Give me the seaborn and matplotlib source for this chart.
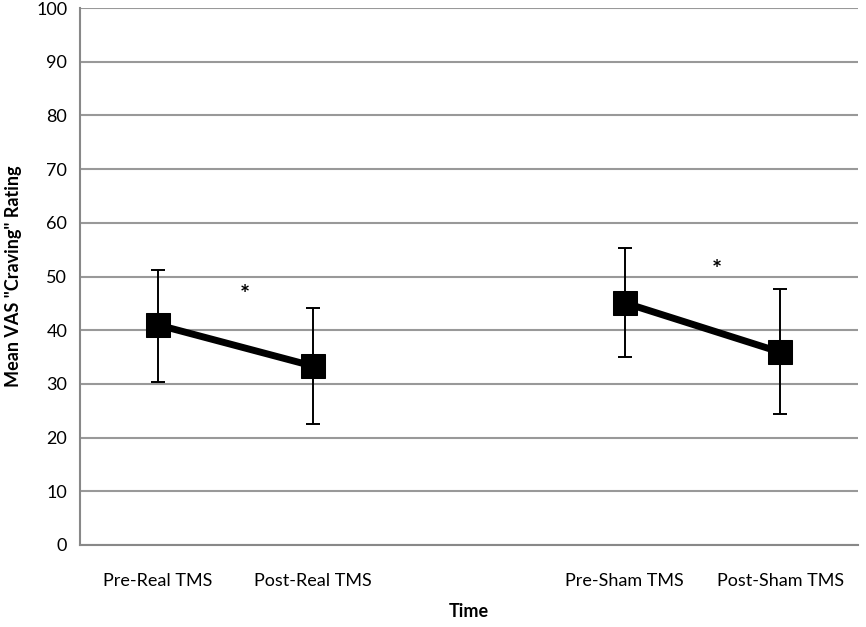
import pandas as pd
import numpy as np
import matplotlib.pyplot as plt
import seaborn as sns
from matplotlib.ticker import FixedLocator

categories = ["Pre-Real TMS", "Post-Real TMS", "", "Pre-Sham TMS", "Post-Sham TMS"]
points = ["Pre-Real TMS", "Post-Real TMS", "Pre-Sham TMS", "Post-Sham TMS"]
groups = ["Real", "Real", "Sham", "Sham"]
means = [41.0, 33.3, 45.1, 35.9]
upper = [51.2, 44.1, 55.3, 47.7]
lower = [30.4, 22.5, 35.0, 24.4]
star_x = [0.56, 3.59]
star_y = [46.5, 51.2]

df = pd.DataFrame({"time": points, "group": groups, "mean": means,
                   "upper": upper, "lower": lower})
df["pos"] = [categories.index(t) for t in df["time"]]

sns.set_style("white")
plt.rcParams['font.family'] = ['Lato', 'DejaVu Sans']

fig = plt.figure(figsize=(8.66, 6.27), dpi=100)
ax = fig.add_axes([0.092, 0.131, 0.899, 0.856])

# error bars first so the markers sit on top
ax.errorbar(df["pos"], df["mean"],
            yerr=[df["mean"] - df["lower"], df["upper"] - df["mean"]],
            fmt="none", ecolor="black", elinewidth=1.4, capsize=5, capthick=1.4, zorder=3)

sns.lineplot(data=df, x="pos", y="mean", units="group", estimator=None,
             color="black", linewidth=5, marker="s", markersize=17,
             markeredgecolor="black", ax=ax, zorder=4)

for x, y in zip(star_x, star_y):
    ax.text(x, y, "*", ha="center", va="center", fontsize=17, fontweight="bold", color="black")

ax.set_xlim(-0.5, len(categories) - 0.5)
ax.set_ylim(0, 100)
ax.set_yticks(np.arange(0, 101, 10))
ax.set_xticks(range(len(categories)))
ax.set_xticklabels(categories, fontsize=13, color="black")
ax.tick_params(axis="x", which="major", length=0, pad=20)
ax.xaxis.set_minor_locator(FixedLocator(np.arange(-0.5, len(categories), 1.0)))
ax.tick_params(axis="x", which="minor", length=6, color="#888888", width=1.2)
ax.tick_params(axis="y", length=5, color="#888888", width=1.2, labelsize=13,
               labelcolor="black", pad=4)

ax.yaxis.grid(True, color="#999999", linewidth=1.5)
ax.set_axisbelow(True)
for s in ["top", "right"]:
    ax.spines[s].set_visible(False)
for s in ["left", "bottom"]:
    ax.spines[s].set_color("#888888")
    ax.spines[s].set_linewidth(1.5)

ax.set_xlabel("Time", fontsize=13, fontweight="bold", color="black", labelpad=10)
ax.set_ylabel('Mean VAS "Craving" Rating', fontsize=13, fontweight="bold",
              color="black", labelpad=10)

fig.savefig("out.png", dpi=100)
